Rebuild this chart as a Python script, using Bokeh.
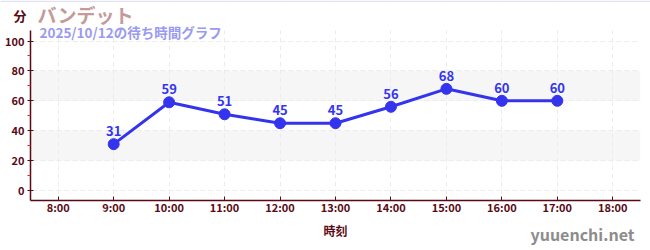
from bokeh.plotting import figure
from bokeh.models import FixedTicker, BoxAnnotation, Label, ColumnDataSource, Range1d
from bokeh.core.properties import value
from bokeh.embed import file_html
from bokeh.resources import INLINE

hours = [9, 10, 11, 12, 13, 14, 15, 16, 17]
waits = [31, 59, 51, 45, 45, 56, 68, 60, 60]
x_ticks = [8, 9, 10, 11, 12, 13, 14, 15, 16, 17, 18]
x_tick_labels = [f"{h}:00" for h in x_ticks]
y_ticks = [0, 20, 40, 60, 80, 100]
y_minor = [10, 30, 50, 70, 90]
bands = [(20, 40), (60, 80)]
title_text = "バンデット"
subtitle_text = "2025/10/12の待ち時間グラフ"
y_unit = "分"
x_label = "時刻"
watermark = "yuuenchi.net"

FONT = "Noto Sans CJK JP"
DARK = "#5a0a14"
BLUE = "#3434ee"

W, H = 650, 250
# plot area in pixels: x 30..640, y 30..200 (from top)
X0, X1 = 7.5, 18.5
kx = (640 - 30) / (X1 - X0)
ky = (190 - 40.5) / 100.0
Y_BOT = -(200 - 190) / ky
Y_TOP = (190 - 30) / ky

p = figure(width=W, height=H, output_backend="svg", toolbar_location=None,
           x_range=Range1d(X0 - 30 / kx, X1 + 10 / kx),
           y_range=Range1d(-(H - 190) / ky, 190 / ky),
           min_border_left=0, min_border_right=0, min_border_top=0, min_border_bottom=0)
p.outline_line_color = None
p.title.visible = False

for lo, hi in bands:
    p.add_layout(BoxAnnotation(left=X0, right=X1, bottom=lo, top=hi, fill_color="#f6f6f6",
                               fill_alpha=1.0, line_color=None, level="image"))

p.xgrid.grid_line_color = "#ececec"
p.xgrid.grid_line_dash = "5 3"
p.ygrid.grid_line_color = "#ececec"
p.ygrid.grid_line_dash = "5 3"

# white covers outside plotting area (grid lines span the whole canvas)
for kw in (dict(bottom=Y_TOP), dict(top=Y_BOT), dict(right=X0), dict(left=X1)):
    p.add_layout(BoxAnnotation(fill_color="white", fill_alpha=1.0, line_color=None,
                               level="underlay", **kw))
p.add_layout(BoxAnnotation(bottom=190 / ky - 1.5 / ky, fill_color="#e2e2f6", fill_alpha=1.0,
                           line_color=None, level="underlay"))

p.xaxis.fixed_location = Y_BOT
p.yaxis.fixed_location = X0
p.xaxis.bounds = (X0, X1)
p.yaxis.bounds = (Y_BOT, Y_TOP)

p.xaxis.ticker = FixedTicker(ticks=x_ticks)
p.xaxis.major_label_overrides = {t: l for t, l in zip(x_ticks, x_tick_labels)}
p.yaxis.ticker = FixedTicker(ticks=y_ticks, minor_ticks=y_minor)

for ax in (p.xaxis, p.yaxis):
    ax.axis_line_color = DARK
    ax.axis_line_width = 1.5
    ax.major_tick_line_color = DARK
    ax.major_label_text_color = DARK
    ax.major_label_text_font = FONT
    ax.major_label_text_font_style = "bold"
    ax.major_label_text_font_size = "11px"

p.yaxis.major_tick_in = 3
p.yaxis.major_tick_out = 3
p.yaxis.minor_tick_line_color = "#dd2222"
p.yaxis.minor_tick_in = 0
p.yaxis.minor_tick_out = 3
p.yaxis.major_label_standoff = 3
p.xaxis.major_tick_in = 4
p.xaxis.major_tick_out = 0
p.xaxis.minor_tick_line_color = None
p.xaxis.major_label_standoff = -2
p.xaxis.axis_label = x_label
p.xaxis.axis_label_text_font = FONT
p.xaxis.axis_label_text_font_style = "bold"
p.xaxis.axis_label_text_font_size = "12px"
p.xaxis.axis_label_text_color = DARK
p.xaxis.axis_label_standoff = 4

src = ColumnDataSource(dict(x=hours, y=waits, t=[str(v) for v in waits]))
p.line("x", "y", source=src, line_color=BLUE, line_width=3)
p.scatter("x", "y", source=src, size=11, fill_color=BLUE, line_color=BLUE)
p.text("x", "y", text="t", source=src, x_offset=0, y_offset=-8, text_align="center",
       text_baseline="bottom", text_color=BLUE, text_font_size="13px",
       text_font_style="bold", text_font=value(FONT))

p.add_layout(Label(x=13, y=H - 15, x_units="screen", y_units="screen", text=y_unit,
                   text_font=FONT, text_font_style="bold", text_font_size="13px",
                   text_color=DARK, text_baseline="middle"))
p.add_layout(Label(x=37, y=H - 14, x_units="screen", y_units="screen", text=title_text,
                   text_font=FONT, text_font_style="bold", text_font_size="19px",
                   text_color="#c49a9a", text_baseline="middle"))
p.add_layout(Label(x=39, y=H - 31, x_units="screen", y_units="screen", text=subtitle_text,
                   text_font=FONT, text_font_style="bold", text_font_size="13.5px",
                   text_color="#9a9af0", text_baseline="middle"))
p.add_layout(Label(x=634, y=H - 233, x_units="screen", y_units="screen", text=watermark,
                   text_font=FONT, text_font_style="bold", text_font_size="16px",
                   text_align="right", text_color="#8c8c8c", text_baseline="middle"))

open("out.html", "w").write(file_html(p, INLINE))
